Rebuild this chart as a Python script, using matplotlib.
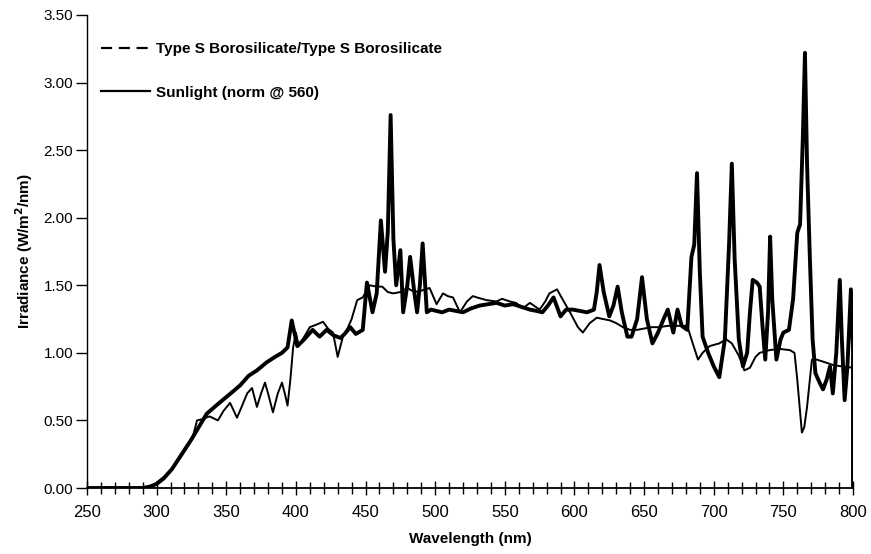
import matplotlib
matplotlib.use("Agg")
import matplotlib.pyplot as plt
from matplotlib.lines import Line2D
from matplotlib.ticker import MultipleLocator

plt.rcParams['font.family'] = ['Liberation Sans', 'DejaVu Sans']

# Type S Borosilicate (lamp) spectrum
wl_lamp = [250, 260, 270, 280, 290, 295, 300, 305, 311, 318, 325, 332, 336, 345, 352,
           360, 366, 372, 379, 385, 390, 394, 397, 401, 406, 412, 417, 422, 427, 432,
           435, 439, 443, 448, 451, 455, 458, 461, 464, 466, 468, 470, 472, 475, 477,
           480, 482, 485, 487, 489, 491, 494, 497, 501, 505, 510, 515, 520, 526, 532,
           538, 544, 550, 556, 562, 568, 573, 577, 581, 585, 590, 594, 599, 604, 609,
           614, 616, 618, 621, 625, 628, 631, 634, 638, 641, 645, 648.5, 652, 656, 660,
           664, 667, 671, 674, 677, 681, 684, 686, 688, 690, 692, 696, 700, 704, 708,
           711, 713, 715, 718, 721, 724, 726, 728, 731, 733, 735, 737, 739, 740.5, 742,
           745, 748, 750, 754, 757, 760, 762, 764, 765.5, 767, 769, 771, 773, 776, 778.5,
           781, 783.5, 785.5, 788, 790.5, 792, 794, 796, 798.5, 800, 800]
irr_lamp = [0, 0, 0, 0, 0, 0.01, 0.03, 0.07, 0.14, 0.25, 0.36, 0.48, 0.55, 0.63, 0.69,
            0.76, 0.83, 0.87, 0.93, 0.97, 1.00, 1.04, 1.24, 1.05, 1.10, 1.17, 1.12, 1.17, 1.13, 1.11,
            1.14, 1.19, 1.14, 1.17, 1.52, 1.30, 1.44, 1.98, 1.60, 1.90, 2.76, 1.84, 1.50, 1.76, 1.30,
            1.50, 1.71, 1.45, 1.30, 1.50, 1.81, 1.30, 1.32, 1.31, 1.30, 1.32, 1.31, 1.30, 1.33, 1.35,
            1.36, 1.37, 1.35, 1.36, 1.34, 1.32, 1.31, 1.30, 1.35, 1.41, 1.27, 1.32, 1.32, 1.31, 1.30,
            1.32, 1.45, 1.65, 1.45, 1.27, 1.35, 1.49, 1.30, 1.12, 1.12, 1.25, 1.56, 1.25, 1.07, 1.15,
            1.25, 1.32, 1.15, 1.32, 1.20, 1.17, 1.71, 1.80, 2.33, 1.60, 1.12, 1.00, 0.90, 0.82, 1.10,
            1.80, 2.40, 1.70, 1.10, 0.90, 1.00, 1.30, 1.54, 1.52, 1.49, 1.20, 0.95, 1.30, 1.86, 1.40,
            0.95, 1.10, 1.15, 1.17, 1.40, 1.89, 1.95, 2.60, 3.22, 2.40, 1.71, 1.10, 0.85, 0.78, 0.73,
            0.80, 0.90, 0.70, 1.00, 1.54, 1.10, 0.65, 0.90, 1.47, 1.05, 0.0]

# Sunlight (normalised at 560 nm)
wl_sun = [250, 290, 295, 297, 300, 305, 311, 318, 323, 326, 329, 333, 338, 344, 348,
          352.7, 355, 357.7, 361, 365, 368.5, 372, 375, 377.8, 380, 383.5, 387, 390, 392, 394,
          396, 398, 400, 402, 406, 410, 415, 419.5, 423, 426.6, 430, 434, 437, 440, 444,
          448, 453, 458, 462, 466, 470, 475, 480, 485, 490, 496, 501, 505.6, 509, 512.8,
          517.8, 522.8, 527, 530, 537, 544, 548, 553.7, 558, 563, 568, 575, 579, 582, 587.5,
          591.8, 596.8, 602.5, 606, 611, 616, 625.5, 630, 634.8, 640, 645, 650, 655, 661, 667,
          672, 677, 681, 684, 688.7, 692, 697, 704, 709, 713, 718, 722, 726, 730, 733,
          740, 747, 754.7, 758, 760, 763.3, 765, 767, 770.5, 774, 780, 785.6, 792, 800]
irr_sun = [0, 0, 0, 0.01, 0.04, 0.08, 0.14, 0.24, 0.32, 0.38, 0.50, 0.51, 0.53, 0.50, 0.57,
           0.63, 0.58, 0.52, 0.60, 0.70, 0.74, 0.60, 0.70, 0.78, 0.70, 0.56, 0.70, 0.78, 0.70, 0.61,
           0.80, 1.04, 1.15, 1.05, 1.12, 1.19, 1.21, 1.23, 1.18, 1.15, 0.97, 1.13, 1.18, 1.25, 1.39,
           1.41, 1.50, 1.49, 1.49, 1.45, 1.44, 1.45, 1.48, 1.45, 1.46, 1.48, 1.36, 1.44, 1.42, 1.41,
           1.30, 1.38, 1.42, 1.41, 1.39, 1.38, 1.40, 1.38, 1.37, 1.33, 1.37, 1.32, 1.38, 1.44, 1.47,
           1.39, 1.30, 1.19, 1.15, 1.22, 1.26, 1.24, 1.22, 1.19, 1.17, 1.17, 1.18, 1.19, 1.19, 1.20,
           1.20, 1.20, 1.20, 1.10, 0.95, 1.00, 1.05, 1.07, 1.10, 1.07, 0.98, 0.87, 0.89, 0.97, 1.00,
           1.02, 1.03, 1.02, 1.00, 0.80, 0.41, 0.45, 0.60, 0.95, 0.95, 0.93, 0.91, 0.90, 0.89]

legend_labels = ["Type S Borosilicate/Type S Borosilicate", "Sunlight (norm @ 560)"]

fig = plt.figure(figsize=(8.71, 5.54), dpi=100)
ax = fig.add_axes([87/871, 66/554, (853-87)/871, (488-15)/554])

ax.plot(wl_lamp, irr_lamp, color='black', lw=2.8, solid_joinstyle='round')
ax.plot(wl_sun, irr_sun, color='black', lw=1.4)

ax.set_xlim(250, 800)
ax.set_ylim(0, 3.5)
ax.xaxis.set_major_locator(MultipleLocator(50))
ax.xaxis.set_minor_locator(MultipleLocator(10))
ax.yaxis.set_major_locator(MultipleLocator(0.5))
ax.yaxis.set_major_formatter(matplotlib.ticker.FormatStrFormatter('%.2f'))

for s in ['top', 'right']:
    ax.spines[s].set_visible(False)
ax.spines['left'].set_linewidth(1.0)
ax.spines['bottom'].set_linewidth(1.3)

ax.tick_params(axis='x', which='major', direction='inout', length=10, width=1, labelsize=12, pad=7)
ax.tick_params(axis='x', which='minor', direction='inout', length=8, width=1)
ax.tick_params(axis='y', which='major', direction='out', length=8, width=1, labelsize=11, pad=2)

ax.set_xlabel("Wavelength (nm)", fontsize=11, fontweight='bold', labelpad=9)
ax.set_ylabel("Irradiance (W/m$^\\mathbf{2}$/nm)", fontsize=11, fontweight='bold', labelpad=6)

handles = [Line2D([], [], color='black', lw=1.6, ls=(0, (5, 3))),
           Line2D([], [], color='black', lw=1.6)]
leg = ax.legend(handles, legend_labels, loc='upper left', bbox_to_anchor=(0.0, 0.972),
                frameon=False, handlelength=3.2, handletextpad=0.4, labelspacing=1.95,
                prop={'weight': 'bold', 'size': 11})

fig.savefig("out.png", dpi=100)
